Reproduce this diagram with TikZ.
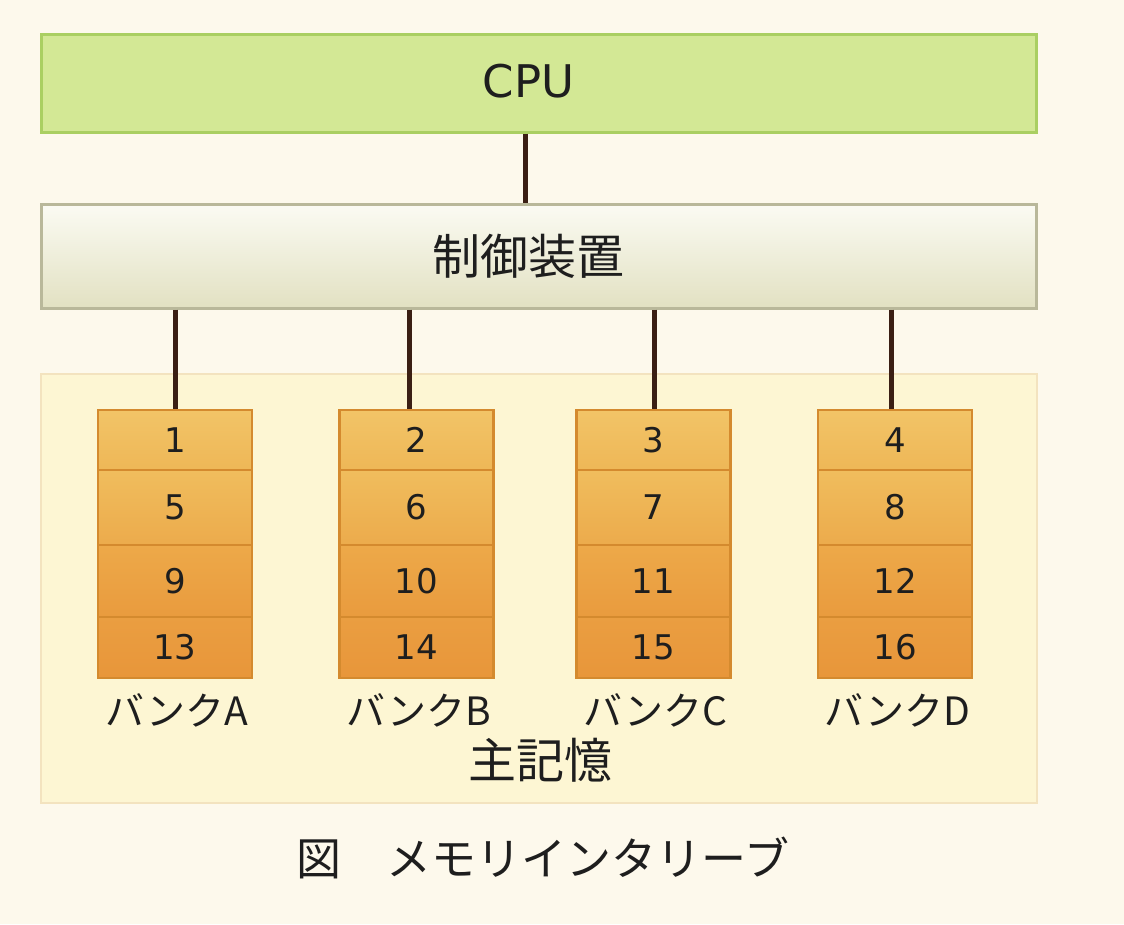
\documentclass[tikz,border=0pt]{standalone}
\usepackage{fontspec}
\setmainfont{DejaVu Sans}
\newfontfamily\jp{Noto Sans CJK JP}
\definecolor{bgc}{HTML}{FDF9EC}
\definecolor{cpufill}{HTML}{D3E895}
\definecolor{cpuline}{HTML}{AACF62}
\definecolor{ctltop}{HTML}{FBFBF3}
\definecolor{ctlbot}{HTML}{E2E1C2}
\definecolor{ctlline}{HTML}{B9B89A}
\definecolor{memfill}{HTML}{FDF6D3}
\definecolor{memline}{HTML}{F3E3BF}
\definecolor{wire}{HTML}{3B1F14}
\definecolor{bankline}{HTML}{D48A2E}
\definecolor{rowAtop}{HTML}{F2C467}
\definecolor{rowAbot}{HTML}{EEB757}
\definecolor{rowBtop}{HTML}{F0BD5D}
\definecolor{rowBbot}{HTML}{ECAB4C}
\definecolor{rowCtop}{HTML}{EDA949}
\definecolor{rowCbot}{HTML}{E99B3E}
\definecolor{rowDtop}{HTML}{EA9E41}
\definecolor{rowDbot}{HTML}{E8963A}
\definecolor{txt}{HTML}{1E1E1E}
\begin{document}
\begin{tikzpicture}[x=1pt,y=-1pt,
  bigbox/.style={rectangle, minimum width=995pt, inner sep=0pt},
  cpubox/.style={bigbox, fill=cpufill, draw=cpuline, line width=3pt, minimum height=98pt},
  ctlbox/.style={bigbox, top color=ctltop, bottom color=ctlbot, draw=ctlline, line width=3pt,
    minimum height=104pt},
  cputext/.style={text=txt, inner sep=0pt, font=\fontsize{45}{50}\selectfont},
  ctltext/.style={text=txt, inner sep=0pt, font=\jp\fontsize{48}{54}\selectfont},
  membox/.style={rectangle, fill=memfill, draw=memline, line width=2pt, inner sep=0pt,
    minimum width=996pt, minimum height=429pt},
  cell/.style={rectangle, draw=bankline, line width=2.5pt, minimum width=154pt, inner sep=0pt,
    text=txt, font=\fontsize{34}{38}\selectfont},
  wireline/.style={draw=wire, line width=5pt},
  banklabel/.style={text=txt, font=\jp\fontsize{39}{42}\selectfont, inner sep=0pt},
  memlabel/.style={text=txt, font=\jp\fontsize{48}{52}\selectfont, inner sep=0pt},
  caption/.style={text=txt, font=\jp\fontsize{45}{50}\selectfont, inner sep=0pt}]
\useasboundingbox[fill=bgc] (0,0) rectangle (1124,924);
\node[membox] (mem) at (538.5,588) {};
\node[cpubox] (cpu) at (538.5,83) {};
\node[cputext] (cput) at ([xshift=-10pt,yshift=2pt]cpu.center) {CPU};
\node[ctlbox] (ctl) at (538.5,256) {};
\node[ctltext] (ctlt) at ([xshift=-10pt]ctl.center) {制御装置};
\draw[wireline] ([xshift=-13.5pt]cpu.south) -- ([xshift=-13.5pt]ctl.north);
\foreach \bx/\lab/\dx [count=\i] in {175/A/0, 416.5/B/-7.5, 653.5/C/0.5, 895/D/-4} {
  \pgfmathtruncatemacro{\na}{\i}
  \pgfmathtruncatemacro{\nb}{\i+4}
  \pgfmathtruncatemacro{\nc}{\i+8}
  \pgfmathtruncatemacro{\nd}{\i+12}
  \node[cell, top color=rowAtop, bottom color=rowAbot, minimum height=60pt] (r\i a) at (\bx,440) {\na};
  \node[cell, top color=rowBtop, bottom color=rowBbot, minimum height=75pt] (r\i b) at (\bx,507.5) {\nb};
  \node[cell, top color=rowCtop, bottom color=rowCbot, minimum height=72pt] (r\i c) at (\bx,581) {\nc};
  \node[cell, top color=rowDtop, bottom color=rowDbot, minimum height=61pt] (r\i d) at (\bx,647.5) {\nd};
  \node[banklabel] (lab\i) at (\bx+2,710) {バンク\lab};
  \draw[wireline] (ctl.south -| {\bx+\dx},0) -- ([xshift=\dx pt]r\i a.north);
}
\node[memlabel] (memlab) at (540,760) {主記憶};
\node[caption] (cap) at (543,858) {図　メモリインタリーブ};
\end{tikzpicture}
\end{document}
